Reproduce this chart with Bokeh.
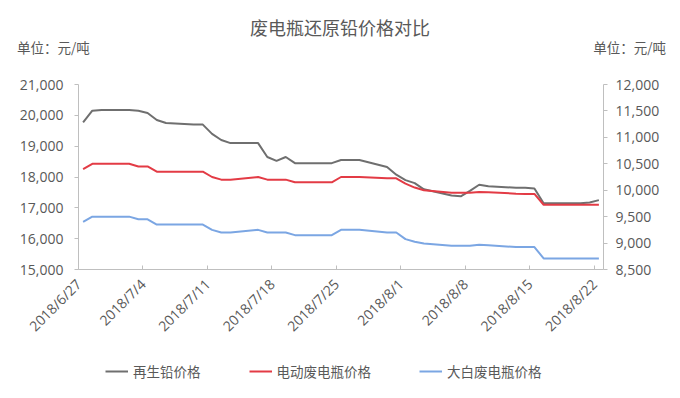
import math
import pandas as pd
from bokeh.plotting import figure
from bokeh.layouts import column
from bokeh.models import Range1d, LinearAxis, FixedTicker, NumeralTickFormatter, Legend, LegendItem, Div
from bokeh.embed import file_html
from bokeh.resources import INLINE

title_text = "废电瓶还原铅价格对比"
unit_text = "单位：元/吨"
series_names = ["再生铅价格", "电动废电瓶价格", "大白废电瓶价格"]

dates = ["2018-06-27", "2018-06-28", "2018-06-29", "2018-07-02", "2018-07-03", "2018-07-04",
         "2018-07-05", "2018-07-06", "2018-07-09", "2018-07-10", "2018-07-11", "2018-07-12",
         "2018-07-13", "2018-07-16", "2018-07-17", "2018-07-18", "2018-07-19", "2018-07-20",
         "2018-07-23", "2018-07-24", "2018-07-25", "2018-07-26", "2018-07-27", "2018-07-30",
         "2018-07-31", "2018-08-01", "2018-08-02", "2018-08-03", "2018-08-06", "2018-08-07",
         "2018-08-08", "2018-08-09", "2018-08-10", "2018-08-13", "2018-08-14", "2018-08-15",
         "2018-08-16", "2018-08-17", "2018-08-20", "2018-08-21", "2018-08-22"]

lead_price = [19775, 20150, 20175, 20175, 20150, 20075,
              19850, 19750, 19700, 19700, 19400, 19200,
              19100, 19100, 18650, 18525, 18650, 18450,
              18450, 18450, 18550, 18550, 18550, 18325,
              18075, 17900, 17800, 17600, 17400, 17375,
              17550, 17750, 17700, 17650, 17650, 17625,
              17150, 17150, 17150, 17175, 17250]

ebike_battery_price = [10400, 10500, 10500, 10500, 10450, 10450,
                       10350, 10350, 10350, 10350, 10250, 10200,
                       10200, 10250, 10200, 10200, 10200, 10150,
                       10150, 10150, 10250, 10250, 10250, 10225,
                       10225, 10125, 10050, 10000, 9950, 9950,
                       9950, 9965, 9960, 9935, 9930, 9930,
                       9725, 9725, 9725, 9725, 9725]

white_battery_price = [9400, 9500, 9500, 9500, 9450, 9450,
                       9350, 9350, 9350, 9350, 9250, 9200,
                       9200, 9250, 9200, 9200, 9200, 9150,
                       9150, 9150, 9250, 9250, 9250, 9200,
                       9200, 9075, 9025, 8990, 8950, 8950,
                       8950, 8970, 8960, 8925, 8925, 8925,
                       8710, 8710, 8710, 8710, 8710]

x_tick_dates = ["2018-06-27", "2018-07-04", "2018-07-11", "2018-07-18", "2018-07-25",
                "2018-08-01", "2018-08-08", "2018-08-15", "2018-08-22"]
x_tick_labels = ["2018/6/27", "2018/7/4", "2018/7/11", "2018/7/18", "2018/7/25",
                 "2018/8/1", "2018/8/8", "2018/8/15", "2018/8/22"]
left_ticks = [15000, 16000, 17000, 18000, 19000, 20000, 21000]
right_ticks = [8500, 9000, 9500, 10000, 10500, 11000, 11500, 12000]

CJK = "Noto Sans CJK SC"
NUM = "Open Sans"
TEXT = "#595959"
AXIS = "#bfbfbf"

# layout geometry (pixels): the frame spans the whole figure, the axes are pinned inside it
FIG_W = 680
PLOT_LEFT, PLOT_W = 78, 525      # horizontal band of the plotting area
PLOT_PX = 185                    # height of the 15,000-21,000 band
TOP_PAD = 12                     # frame room above the top tick label
FRAME_PX = 324                   # frame also holds the date labels and legend below
bot_extra = (FRAME_PX - PLOT_PX - TOP_PAD) / PLOT_PX
top_extra = TOP_PAD / PLOT_PX

start = pd.Timestamp(dates[0])
xs = [(pd.Timestamp(d) - start).days + 0.5 for d in dates]
tick_pos = [(pd.Timestamp(d) - start).days for d in x_tick_dates]
x0, x1 = 0, tick_pos[-1] + 1
per_px = (x1 - x0) / PLOT_W

header = Div(width=FIG_W, height=60, margin=0, text=(
    '<div style="position:relative;width:680px;height:60px;color:%s;font-family:\'%s\';">'
    '<div style="position:absolute;left:0;top:16px;width:680px;text-align:center;'
    'font-size:18px;line-height:22px;white-space:nowrap;">%s</div>'
    '<div style="position:absolute;left:17px;top:39px;font-size:13.5px;line-height:16px;'
    'white-space:nowrap;">%s</div>'
    '<div style="position:absolute;right:14px;top:39px;font-size:13.5px;line-height:16px;'
    'white-space:nowrap;">%s</div>'
    '</div>') % (TEXT, CJK, title_text, unit_text, unit_text))

l0, l1 = left_ticks[0], left_ticks[-1]
r0, r1_ = right_ticks[0], right_ticks[-1]
p = figure(frame_width=FIG_W, frame_height=FRAME_PX,
           min_border_left=0, min_border_right=0, min_border_top=60 + 24 - 60 - TOP_PAD,
           min_border_bottom=2,
           x_range=Range1d(x0 - PLOT_LEFT * per_px, x1 + (FIG_W - PLOT_LEFT - PLOT_W) * per_px),
           y_range=Range1d(l0 - (l1 - l0) * bot_extra, l1 + (l1 - l0) * top_extra),
           output_backend="svg", toolbar_location=None)
p.extra_y_ranges = {"right": Range1d(r0 - (r1_ - r0) * bot_extra, r1_ + (r1_ - r0) * top_extra)}
p.outline_line_color = None
p.xgrid.visible = False
p.ygrid.visible = False
p.background_fill_color = "white"
p.border_fill_color = "white"

r1 = p.line(xs, lead_price, line_color="#6f6f6f", line_width=2)
r2 = p.line(xs, ebike_battery_price, line_color="#e33b45", line_width=2, y_range_name="right")
r3 = p.line(xs, white_battery_price, line_color="#7ba6e3", line_width=2, y_range_name="right")

def style_axis(ax):
    ax.axis_line_color = AXIS
    ax.major_tick_line_color = AXIS
    ax.minor_tick_line_color = None
    ax.major_label_text_color = TEXT
    ax.major_label_text_font = NUM
    ax.major_label_text_font_size = "14px"

xa = p.xaxis[0]
style_axis(xa)
xa.fixed_location = l0
xa.bounds = (x0, x1)
xa.ticker = FixedTicker(ticks=tick_pos)
xa.major_label_overrides = {pos: lab for pos, lab in zip(tick_pos, x_tick_labels)}
xa.major_label_orientation = math.pi / 4
xa.major_tick_in = 4
xa.major_tick_out = 0
xa.major_label_standoff = 12

ya = p.yaxis[0]
style_axis(ya)
ya.fixed_location = x0
ya.bounds = (l0, l1)
ya.ticker = FixedTicker(ticks=left_ticks)
ya.formatter = NumeralTickFormatter(format="0,0")
ya.major_tick_in = 0
ya.major_tick_out = 4
ya.major_label_standoff = 11

ra = LinearAxis(y_range_name="right")
style_axis(ra)
ra.fixed_location = x1
ra.bounds = (r0, r1_)
ra.ticker = FixedTicker(ticks=right_ticks)
ra.formatter = NumeralTickFormatter(format="0,0")
ra.major_tick_in = 0
ra.major_tick_out = 4
ra.major_label_standoff = 8
p.add_layout(ra, "right")

legend = Legend(items=[LegendItem(label=series_names[0], renderers=[r1]),
                       LegendItem(label=series_names[1], renderers=[r2]),
                       LegendItem(label=series_names[2], renderers=[r3])],
                orientation="horizontal", location=(105, 15),
                border_line_color=None, background_fill_alpha=0,
                glyph_width=23, glyph_height=16, label_standoff=5, spacing=48,
                padding=0, margin=0, label_text_font=CJK, label_text_font_size="13.5px",
                label_text_color=TEXT, label_height=16)
p.add_layout(legend)

page = column(header, p, spacing=0)
open("out.html", "w").write(file_html(page, INLINE))
